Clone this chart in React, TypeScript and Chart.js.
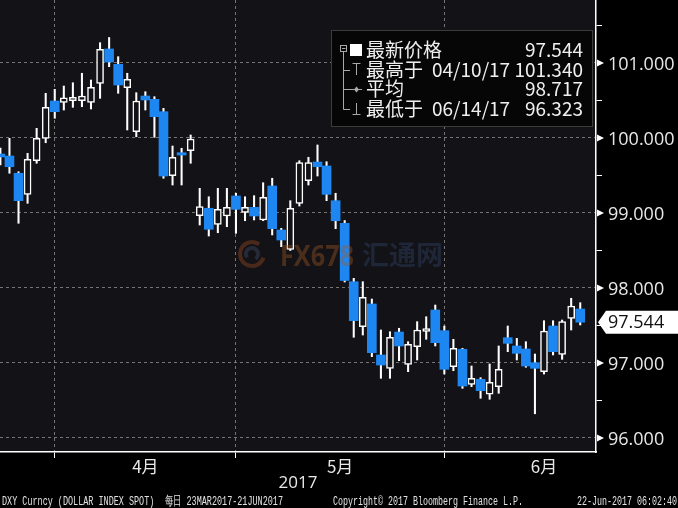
import React, { useEffect, useRef } from 'react';
import { Chart, registerables } from 'chart.js';

Chart.register(...registerables);

// ---- data ----
const dates = [
  '03/23', '03/24', '03/27', '03/28', '03/29', '03/30', '03/31',
  '04/03', '04/04', '04/05', '04/06', '04/07', '04/10', '04/11', '04/12', '04/13', '04/14',
  '04/17', '04/18', '04/19', '04/20', '04/21', '04/24', '04/25', '04/26', '04/27', '04/28',
  '05/01', '05/02', '05/03', '05/04', '05/05', '05/08', '05/09', '05/10', '05/11', '05/12',
  '05/15', '05/16', '05/17', '05/18', '05/19', '05/22', '05/23', '05/24', '05/25', '05/26',
  '05/29', '05/30', '05/31',
  '06/01', '06/02', '06/05', '06/06', '06/07', '06/08', '06/09', '06/12', '06/13', '06/14',
  '06/15', '06/16', '06/19', '06/20', '06/21',
];
const openP = [
  99.787, 99.760, 99.530, 99.249, 99.697, 99.996, 100.493,
  100.476, 100.497, 100.497, 100.476, 100.729, 101.187, 100.982, 100.671, 100.084, 100.560,
  100.516, 100.351, 99.497, 99.804, 99.831, 98.964, 99.063, 98.849, 98.960, 99.227,
  99.009, 99.076, 98.907, 99.360, 98.773, 98.516, 99.129, 99.431, 99.680, 99.627,
  99.164, 98.863, 98.084, 97.484, 97.787, 97.107, 96.929, 97.413, 96.982, 97.217,
  97.420, 97.707, 97.431,
  96.951, 97.183, 96.716, 96.782, 96.583, 96.684, 97.337, 97.227, 97.187, 97.004,
  96.884, 97.493, 97.116, 97.596, 97.720,
];
const highP = [
  99.867, 99.996, 99.550, 99.796, 100.129, 100.596, 100.649,
  100.693, 100.737, 100.863, 100.773, 101.271, 101.340, 101.084, 100.863, 100.604, 100.617,
  100.551, 100.396, 99.893, 99.863, 100.040, 99.329, 99.217, 99.329, 99.329, 99.263,
  99.217, 99.231, 99.404, 99.463, 98.796, 99.164, 99.697, 99.743, 99.907, 99.684,
  99.263, 98.900, 98.129, 98.084, 97.853, 97.440, 97.417, 97.463, 97.284, 97.551,
  97.617, 97.773, 97.493,
  97.316, 97.196, 96.960, 96.804, 96.987, 97.227, 97.493, 97.329, 97.284, 97.120,
  97.564, 97.564, 97.573, 97.863, 97.804,
];
const lowP = [
  99.640, 99.530, 98.863, 99.129, 99.663, 99.937, 100.263,
  100.373, 100.409, 100.417, 100.387, 100.529, 100.951, 100.596, 100.107, 100.017, 100.373,
  100.009, 99.463, 99.373, 99.373, 99.663, 98.840, 98.693, 98.737, 98.817, 98.729,
  98.897, 98.907, 98.897, 98.707, 98.551, 98.500, 99.093, 99.373, 99.493, 99.164,
  98.791, 98.080, 97.343, 97.373, 97.084, 96.796, 96.796, 97.031, 96.884, 97.040,
  97.316, 97.227, 96.853,
  96.897, 96.662, 96.684, 96.529, 96.516, 96.596, 97.151, 97.040, 96.943, 96.323,
  96.853, 97.107, 97.049, 97.440, 97.507,
];
const closeP = [
  99.747, 99.617, 99.164, 99.716, 99.996, 100.409, 100.351,
  100.537, 100.543, 100.560, 100.676, 101.183, 101.013, 100.707, 100.783, 100.493, 100.507,
  100.284, 99.493, 99.743, 99.773, 99.987, 99.084, 98.783, 99.049, 99.076, 99.049,
  99.076, 98.960, 99.209, 98.791, 98.640, 99.063, 99.671, 99.671, 99.617, 99.249,
  98.897, 98.100, 97.564, 97.876, 97.137, 96.973, 97.343, 97.227, 97.249, 97.440,
  97.435, 97.271, 96.916,
  97.196, 96.693, 96.796, 96.631, 96.743, 96.916, 97.262, 97.129, 96.960, 96.929,
  97.427, 97.151, 97.551, 97.760, 97.544,
];

const monthGridIdx = [6, 26, 49];
const monthLabelIdx = [16, 37.5, 60];
const monthLabels = ['4月', '5月', '6月'];
const yearLabel = '2017';
const yTickValues = [96, 96.5, 97, 97.5, 98, 98.5, 99, 99.5, 100, 100.5, 101, 101.5];
const legendLabels = ['最新价格', '最高于', '平均', '最低于'];
const legendDates = ['', '04/10/17', '', '06/14/17'];
const legendValues = ['97.544', '101.340', '98.717', '96.323'];
const footerLeft = 'DXY Curncy (DOLLAR INDEX SPOT)  每日 23MAR2017-21JUN2017';
const footerMid = 'Copyright© 2017 Bloomberg Finance L.P.';
const footerRight = '22-Jun-2017 06:02:40';
const watermarkA = 'FX678';
const watermarkB = '汇通网';

const X_MIN = -0.044;
const X_MAX = 65.74;
const Y_MIN = 95.8133;
const Y_MAX = 101.84;

const BLUE = '#1e86f0';
const PLOT_BG = '#121217';
const GRID = 'rgba(135,135,135,0.85)';
const TXT = '#e8e8e8';
const CJK = "'Noto Sans CJK SC', 'Noto Sans', sans-serif";
const NUM = "'Open Sans', 'Noto Sans', sans-serif";

const bgPlugin = {
  id: 'bgPlugin',
  beforeDraw(chart: any) {
    const { ctx, chartArea: a, width, height } = chart;
    ctx.save();
    ctx.fillStyle = '#000';
    ctx.fillRect(0, 0, width, height);
    ctx.fillStyle = PLOT_BG;
    ctx.fillRect(a.left, a.top, a.right - a.left, a.bottom - a.top);
    ctx.restore();
  },
};

const watermarkPlugin = {
  id: 'watermarkPlugin',
  afterDatasetsDraw(chart: any) {
    const { ctx } = chart;
    ctx.save();
    ctx.lineWidth = 4;
    ctx.strokeStyle = 'rgba(165,80,35,0.38)';
    ctx.beginPath();
    ctx.arc(252, 254, 12, 0.3, Math.PI * 1.7);
    ctx.stroke();
    ctx.strokeStyle = 'rgba(80,90,120,0.32)';
    ctx.beginPath();
    ctx.arc(252, 254, 6, Math.PI * 0.8, Math.PI * 2.3);
    ctx.stroke();
    ctx.textBaseline = 'alphabetic';
    ctx.textAlign = 'left';
    ctx.font = `bold 29px ${NUM}`;
    ctx.fillStyle = 'rgba(160,90,35,0.40)';
    ctx.fillText(watermarkA, 280, 266, 74);
    ctx.font = `bold 27px ${CJK}`;
    ctx.fillStyle = 'rgba(50,70,110,0.38)';
    ctx.fillText(watermarkB, 362, 265, 81);
    ctx.restore();
  },
};

const overlayPlugin = {
  id: 'overlayPlugin',
  afterDraw(chart: any) {
    const { ctx, chartArea: a, scales } = chart;
    const ys = scales.y;
    ctx.save();

    // arrows at major y ticks
    ctx.fillStyle = '#ffffff';
    yTickValues.filter((v) => Number.isInteger(v)).forEach((v) => {
      const py = ys.getPixelForValue(v);
      ctx.beginPath();
      ctx.moveTo(a.right + 1, py - 3.5);
      ctx.lineTo(a.right + 8, py);
      ctx.lineTo(a.right + 1, py + 3.5);
      ctx.closePath();
      ctx.fill();
    });

    // latest price tag
    const last = closeP[closeP.length - 1];
    const ly = ys.getPixelForValue(last);
    ctx.fillStyle = '#ffffff';
    ctx.beginPath();
    ctx.moveTo(a.right + 2, ly);
    ctx.lineTo(a.right + 10, ly - 11.5);
    ctx.lineTo(chart.width, ly - 11.5);
    ctx.lineTo(chart.width, ly + 11.5);
    ctx.lineTo(a.right + 10, ly + 11.5);
    ctx.closePath();
    ctx.fill();
    ctx.fillStyle = '#111';
    ctx.font = `18px ${NUM}`;
    ctx.textBaseline = 'middle';
    ctx.textAlign = 'left';
    ctx.fillText(last.toFixed(3), a.right + 12, ly + 1);

    // legend box
    const bx = 331, by = 30, bw = a.right - 3 - 331, bh = 97;
    ctx.fillStyle = '#060606';
    ctx.fillRect(bx, by, bw, bh);
    ctx.strokeStyle = '#3c3c3c';
    ctx.lineWidth = 1;
    ctx.strokeRect(bx + 0.5, by + 0.5, bw - 1, bh - 1);

    const rowY = [50, 69.5, 89, 108.5];
    ctx.strokeStyle = '#a8a8a8';
    ctx.lineWidth = 1;
    ctx.strokeRect(340.5, 45.5, 6, 6);
    ctx.beginPath();
    ctx.moveTo(342, 48.5); ctx.lineTo(345.5, 48.5);
    ctx.moveTo(343.5, 52); ctx.lineTo(343.5, 109.5);
    [69.5, 89, 109].forEach((yy) => { ctx.moveTo(343.5, Math.round(yy) + 0.5); ctx.lineTo(350, Math.round(yy) + 0.5); });
    ctx.moveTo(352.5, 63.5); ctx.lineTo(360.5, 63.5);
    ctx.moveTo(356.5, 63.5); ctx.lineTo(356.5, 75);
    ctx.moveTo(350, 89.5); ctx.lineTo(362, 89.5);
    ctx.moveTo(356.5, 103); ctx.lineTo(356.5, 114.5);
    ctx.moveTo(352.5, 114.5); ctx.lineTo(360.5, 114.5);
    ctx.stroke();
    ctx.fillStyle = '#a8a8a8';
    ctx.beginPath();
    ctx.moveTo(356.5, 86.5); ctx.lineTo(359, 89.5); ctx.lineTo(356.5, 92.5); ctx.lineTo(354, 89.5);
    ctx.closePath();
    ctx.fill();
    ctx.fillStyle = '#ffffff';
    ctx.fillRect(350, 44, 12, 12);

    ctx.font = `19px ${CJK}`;
    ctx.fillStyle = '#efefef';
    ctx.textBaseline = 'middle';
    legendLabels.forEach((t, i) => {
      ctx.textAlign = 'left';
      ctx.fillText(t, 366, rowY[i]);
      if (legendDates[i]) ctx.fillText(legendDates[i], 432, rowY[i]);
      ctx.textAlign = 'right';
      ctx.fillText(legendValues[i], a.right - 13, rowY[i]);
    });

    // footer
    ctx.fillStyle = '#e2e2e2';
    ctx.font = `13px 'Liberation Mono', monospace`;
    ctx.textBaseline = 'alphabetic';
    ctx.textAlign = 'left';
    ctx.fillText(footerLeft, 2, 505, 281);
    ctx.fillText(footerMid, 333, 505, 190);
    ctx.textAlign = 'right';
    ctx.fillText(footerRight, 677, 505, 100);

    ctx.restore();
  },
};

export default function App() {
  const canvasRef = useRef<HTMLCanvasElement | null>(null);

  useEffect(() => {
    if (!canvasRef.current) return;
    const idx = dates.map((_, i) => i);
    const up = idx.filter((i) => closeP[i] >= openP[i]);
    const down = idx.filter((i) => closeP[i] < openP[i]);

    const chart = new Chart(canvasRef.current, {
      type: 'bar',
      data: {
        datasets: [
          {
            label: 'down',
            data: down.map((i) => ({ x: i, y: [openP[i], closeP[i]] })),
            backgroundColor: BLUE,
            borderWidth: 0,
            barThickness: 9,
            minBarLength: 2,
            grouped: false,
            order: 0,
          } as any,
          {
            label: 'up',
            data: up.map((i) => ({ x: i, y: [openP[i], closeP[i]] })),
            backgroundColor: PLOT_BG,
            borderColor: '#ffffff',
            borderWidth: 1.5,
            borderSkipped: false,
            barThickness: 7,
            minBarLength: 3,
            grouped: false,
            order: 1,
          } as any,
          {
            label: 'wick',
            data: idx.map((i) => ({ x: i, y: [lowP[i], highP[i]] })),
            backgroundColor: '#ffffff',
            borderWidth: 0,
            barThickness: 1.4,
            grouped: false,
            order: 2,
          } as any,
        ],
      },
      options: {
        responsive: false,
        devicePixelRatio: 1,
        animation: false,
        layout: { padding: 0 },
        plugins: {
          legend: { display: false },
          tooltip: { enabled: false },
          title: { display: false },
        },
        scales: {
          x: {
            type: 'linear',
            min: X_MIN,
            max: X_MAX,
            position: 'bottom',
            offset: false,
            weight: 0,
            afterBuildTicks: (s: any) => { s.ticks = monthGridIdx.map((v) => ({ value: v })); },
            afterFit: (s: any) => { s.height = 6; s.paddingLeft = 0; s.paddingRight = 0; },
            grid: { display: true, color: GRID, lineWidth: 1, drawTicks: true, tickLength: 6, tickColor: '#ffffff', offset: false },
            border: { display: true, color: '#ffffff', width: 1.5, dash: [3, 3] },
            ticks: { display: false },
          },
          x2: {
            type: 'linear',
            min: X_MIN,
            max: X_MAX,
            position: 'bottom',
            offset: false,
            weight: 1,
            afterBuildTicks: (s: any) => { s.ticks = monthLabelIdx.map((v) => ({ value: v })); },
            afterFit: (s: any) => { s.height = 50; s.paddingLeft = 0; s.paddingRight = 0; },
            grid: { display: false, drawTicks: false },
            border: { display: false },
            ticks: {
              autoSkip: false,
              maxRotation: 0,
              padding: -2,
              color: TXT,
              font: { family: CJK, size: 17 },
              callback: (v: any) => {
                const k = monthLabelIdx.indexOf(Number(v));
                return k >= 0 ? monthLabels[k] : '';
              },
            },
            title: {
              display: true,
              text: yearLabel,
              color: TXT,
              font: { family: NUM, size: 17 },
              padding: { top: 0, bottom: 15 },
            },
          },
          y: {
            type: 'linear',
            position: 'right',
            min: Y_MIN,
            max: Y_MAX,
            afterBuildTicks: (s: any) => { s.ticks = yTickValues.map((v) => ({ value: v })); },
            afterFit: (s: any) => { s.width = 82; s.paddingTop = 0; s.paddingBottom = 0; },
            grid: {
              display: true,
              drawTicks: true,
              tickLength: 6,
              color: (c: any) => (c.tick && Number.isInteger(c.tick.value) ? GRID : 'rgba(0,0,0,0)'),
              tickColor: (c: any) => (c.tick && Number.isInteger(c.tick.value) ? 'rgba(0,0,0,0)' : '#ffffff'),
            },
            border: { display: true, color: '#ffffff', width: 1.5, dash: [3, 3] },
            ticks: {
              autoSkip: false,
              padding: 6,
              labelOffset: 1.5,
              color: TXT,
              font: { family: NUM, size: 18 },
              callback: (v: any) => (Number.isInteger(Number(v)) ? Number(v).toFixed(3) : ''),
            },
          },
        },
      } as any,
      plugins: [bgPlugin, watermarkPlugin, overlayPlugin],
    });
    return () => chart.destroy();
  }, []);

  return (
    <div style={{ position: 'absolute', left: 0, top: 0, width: 678, height: 508, background: '#000' }}>
      <canvas ref={canvasRef} width={678} height={508} style={{ display: 'block' }} />
    </div>
  );
}
